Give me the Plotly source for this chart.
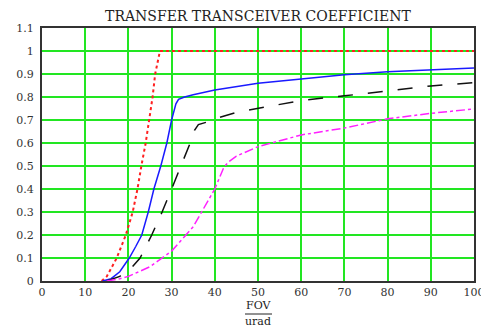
import plotly.graph_objects as go

# FOV (urad) and coefficient values for each curve
red_x = [13.8, 15, 17.3, 19.4, 21, 22.1, 23, 24, 24.8, 25.6, 26.2, 27.3, 100]
red_y = [0, 0.02, 0.1, 0.2, 0.3, 0.4, 0.5, 0.6, 0.7, 0.8, 0.9, 1.0, 1.0]

blue_x = [14, 16, 18, 20.2, 21.7, 23.1, 24.6, 25.9, 27.5, 28.9, 30, 31, 31.6, 33, 35, 40, 50, 60, 70, 80, 90, 100]
blue_y = [0, 0.01, 0.04, 0.1, 0.15, 0.2, 0.3, 0.4, 0.5, 0.6, 0.7, 0.77, 0.79, 0.8, 0.81, 0.83, 0.86, 0.878, 0.897, 0.91, 0.917, 0.926]

black_x = [15, 18, 20.7, 22.7, 25.4, 27.8, 30, 32.2, 34.3, 35.3, 36.2, 38, 40, 45, 50, 60, 70, 80, 90, 100]
black_y = [0, 0.02, 0.057, 0.1, 0.2, 0.3, 0.4, 0.5, 0.6, 0.655, 0.68, 0.69, 0.705, 0.733, 0.75, 0.785, 0.805, 0.827, 0.848, 0.862]

mag_x = [15, 18, 20, 25, 30, 35, 40, 42, 43, 45, 50, 60, 70, 80, 90, 100]
mag_y = [0, 0.01, 0.02, 0.062, 0.13, 0.236, 0.40, 0.49, 0.515, 0.543, 0.584, 0.635, 0.665, 0.705, 0.729, 0.748]

x_ticks = [0, 10, 20, 30, 40, 50, 60, 70, 80, 90, 100]
y_ticks = [0, 0.1, 0.2, 0.3, 0.4, 0.5, 0.6, 0.7, 0.8, 0.9, 1, 1.1]

fig = go.Figure()
fig.add_trace(go.Scatter(x=red_x, y=red_y, mode="lines",
                         line=dict(color="#ff2020", width=2, dash="dot")))
fig.add_trace(go.Scatter(x=blue_x, y=blue_y, mode="lines",
                         line=dict(color="#1a1aff", width=1.5)))
fig.add_trace(go.Scatter(x=black_x, y=black_y, mode="lines",
                         line=dict(color="#111111", width=1.5, dash="longdash")))
fig.add_trace(go.Scatter(x=mag_x, y=mag_y, mode="lines",
                         line=dict(color="#ff20ff", width=1.5, dash="dashdot")))

font_tick = dict(family="DejaVu Serif", size=11, color="#333333")
PH = 253  # plot height in px
fig.update_layout(
    width=481, height=321,
    margin=dict(l=34, r=15, t=20, b=48),
    paper_bgcolor="white", plot_bgcolor="white",
    showlegend=False,
    title=dict(text="TRANSFER TRANSCEIVER COEFFICIENT", xref="paper", x=0.5, xanchor="center",
               yref="container", y=1 - 8 / 321, yanchor="middle",
               font=dict(family="DejaVu Serif", size=14, color="#222222")),
    xaxis=dict(range=[0, 100], tickvals=x_ticks, ticktext=[str(v) for v in x_ticks],
               showgrid=True, gridcolor="#22e622", gridwidth=1.8,
               showline=True, linecolor="#333333", linewidth=2, mirror=True,
               zeroline=False, ticks="", tickfont=font_tick, automargin=False),
    yaxis=dict(range=[0, 1.1], tickvals=y_ticks, ticktext=[f"{v:g}" for v in y_ticks],
               showgrid=True, gridcolor="#22e622", gridwidth=1.8,
               showline=True, linecolor="#333333", linewidth=2, mirror=True,
               zeroline=False, ticks="", tickfont=font_tick, automargin=False,
               ticklabelstandoff=4),
)

fig.add_annotation(text="FOV", xref="paper", yref="paper", x=0.5, y=(281 - 305) / PH,
                   showarrow=False, yanchor="middle",
                   font=dict(family="DejaVu Serif", size=11, color="#222222"))
fig.add_annotation(text="urad", xref="paper", yref="paper", x=0.5, y=(281 - 321) / PH,
                   showarrow=False, yanchor="middle",
                   font=dict(family="DejaVu Serif", size=11, color="#222222"))
fig.add_shape(type="line", xref="paper", yref="paper",
              x0=(245 - 42) / 432, x1=(272 - 42) / 432,
              y0=(281 - 314) / PH, y1=(281 - 314) / PH,
              line=dict(color="#222222", width=1))

fig.write_html("out.html")
